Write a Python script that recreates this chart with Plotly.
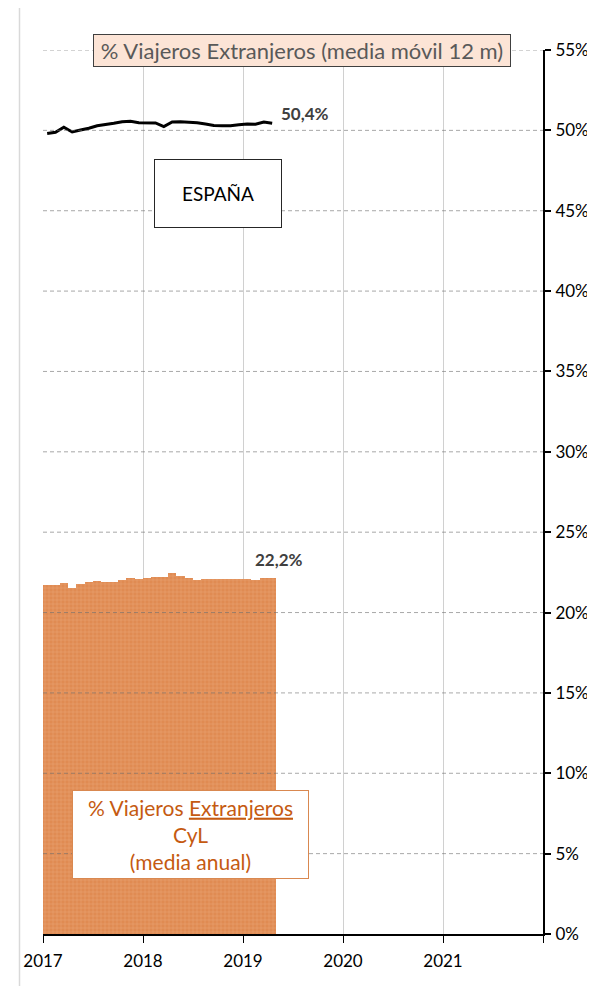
import plotly.graph_objects as go

# ---- data ----
months = ["2017-01", "2017-02", "2017-03", "2017-04", "2017-05", "2017-06",
          "2017-07", "2017-08", "2017-09", "2017-10", "2017-11", "2017-12",
          "2018-01", "2018-02", "2018-03", "2018-04", "2018-05", "2018-06",
          "2018-07", "2018-08", "2018-09", "2018-10", "2018-11", "2018-12",
          "2019-01", "2019-02", "2019-03", "2019-04"]
cyl_pct = [21.72, 21.72, 21.84, 21.51, 21.76, 21.88, 21.98, 21.92, 21.92, 22.05,
           22.13, 22.07, 22.17, 22.24, 22.24, 22.44, 22.28, 22.13, 22.03, 22.11,
           22.11, 22.11, 22.11, 22.11, 22.11, 22.05, 22.15, 22.17]
espana_pct = [49.81, 49.88, 50.19, 49.90, 50.02, 50.13, 50.29, 50.35, 50.44, 50.54,
              50.56, 50.48, 50.46, 50.46, 50.23, 50.52, 50.54, 50.52, 50.48, 50.40,
              50.31, 50.29, 50.29, 50.35, 50.40, 50.38, 50.52, 50.44]
year_ticks = [2017, 2018, 2019, 2020, 2021, 2022]
year_labels = ["2017", "2018", "2019", "2020", "2021", ""]
y_ticks = [0, 5, 10, 15, 20, 25, 30, 35, 40, 45, 50, 55]
y_labels = [f"{v}%" for v in y_ticks]

# decimal-year position of each month (centre of month)
xpos = [int(m[:4]) + (int(m[5:]) - 0.5) / 12 for m in months]

def fmt(v):
    return f"{v:.1f}".replace(".", ",") + "%"

FONT = "Lato, 'Open Sans', sans-serif"
OFF = 8                      # browser body margin
W, H = 595 - OFF, 986 - OFF
L, R, T, B = 43 - OFF, 52, 50 - OFF, 52
PW, PH = W - L - R, H - T - B

def px_x(p):                 # page pixel -> paper fraction
    return (p - OFF - L) / PW

def px_y(p):
    return (H - B - (p - OFF)) / PH

fig = go.Figure()

fig.add_trace(go.Bar(
    x=xpos, y=cyl_pct, width=1 / 12,
    marker=dict(color="#E08B52", line=dict(width=0),
                pattern=dict(shape="+", fgcolor="#EDB188", size=4, solidity=0.3,
                             fillmode="overlay")),
    showlegend=False, hoverinfo="skip"))

fig.add_trace(go.Scatter(
    x=xpos, y=espana_pct, mode="lines",
    line=dict(color="black", width=3), showlegend=False, hoverinfo="skip"))

annotations = [
    dict(x=xpos[-1], y=cyl_pct[-1], xref="x", yref="y", text="<b>" + fmt(cyl_pct[-1]) + "</b>",
         showarrow=False, xanchor="center", yanchor="middle", xshift=7, yshift=18,
         font=dict(family=FONT, size=17, color="#404040")),
    dict(x=xpos[-1], y=espana_pct[-1], xref="x", yref="y", text="<b>" + fmt(espana_pct[-1]) + "</b>",
         showarrow=False, xanchor="left", yanchor="middle", xshift=7, yshift=10,
         font=dict(family=FONT, size=17, color="#404040")),
    dict(x=px_x(302), y=px_y(50), xref="paper", yref="paper",
         text="% Viajeros Extranjeros (media móvil 12 m)", showarrow=False,
         xanchor="center", yanchor="middle", width=416, height=31, borderpad=0,
         bgcolor="#FCE4D6", bordercolor="#404040", borderwidth=1,
         font=dict(family=FONT, size=22, color="#595959")),
    dict(x=px_x(218), y=px_y(193.5), xref="paper", yref="paper",
         text="ESPAÑA", showarrow=False, xanchor="center", yanchor="middle",
         width=126, height=67, borderpad=0,
         bgcolor="white", bordercolor="#262626", borderwidth=1,
         font=dict(family=FONT, size=19, color="black")),
    dict(x=px_x(190.5), y=px_y(834.5), xref="paper", yref="paper",
         text="% Viajeros <u>Extranjeros</u><br>CyL<br>(media anual)", showarrow=False,
         xanchor="center", yanchor="middle", width=235, height=87, borderpad=0,
         bgcolor="white", bordercolor="#D98850", borderwidth=1, align="center",
         font=dict(family=FONT, size=21, color="#C55A11")),
]

shapes = [
    # outer light frame (left edge)
    dict(type="line", xref="paper", yref="paper", x0=px_x(19.5), x1=px_x(19.5),
         y0=px_y(0), y1=px_y(990), line=dict(color="#D9D9D9", width=1.5)),
]
# dashed horizontal gridlines drawn above the bars
for v in y_ticks[1:]:
    shapes.append(dict(type="line", xref="paper", yref="y", x0=0, x1=1, y0=v, y1=v,
                       layer="above",
                       line=dict(color="rgba(110,110,110,0.6)", width=1, dash="4px,3px")))

fig.update_layout(
    width=W, height=H,
    margin=dict(l=L, r=R, t=T, b=B, pad=0, autoexpand=False),
    paper_bgcolor="white", plot_bgcolor="white",
    bargap=0,
    font=dict(family=FONT, size=15, color="black"),
    annotations=annotations, shapes=shapes,
    xaxis=dict(range=[2017, 2022], tickvals=year_ticks, ticktext=year_labels,
               showgrid=True, gridcolor="#D0D0D0", gridwidth=1.2,
               showline=True, linecolor="black", linewidth=1.5,
               ticks="outside", ticklen=7, tickwidth=1.2, tickcolor="black",
               ticklabelstandoff=4,
               tickfont=dict(family=FONT, size=17, color="black"),
               zeroline=False, fixedrange=True),
    yaxis=dict(range=[0, 55], tickvals=y_ticks, ticktext=y_labels, side="right",
               showgrid=False,
               showline=True, linecolor="black", linewidth=2,
               ticks="outside", ticklen=6, tickwidth=1.5, tickcolor="black",
               ticklabelstandoff=1,
               tickfont=dict(family=FONT, size=17, color="black"),
               zeroline=False, fixedrange=True),
)

fig.write_html("out.html")
